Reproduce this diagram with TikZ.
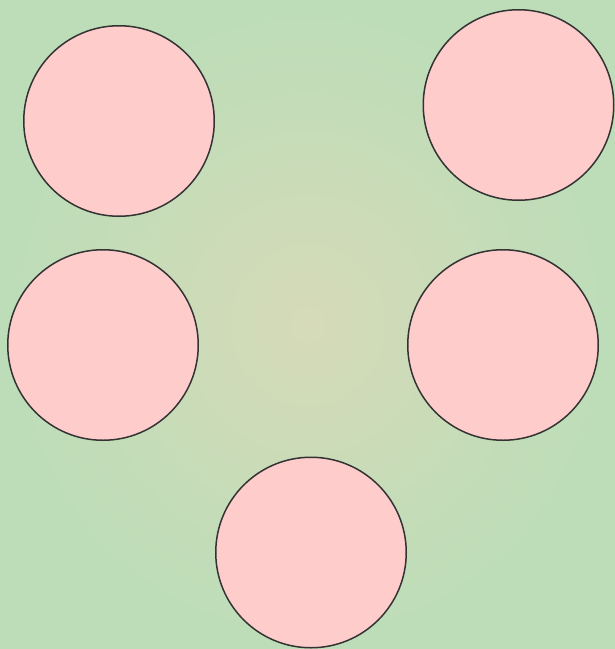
\documentclass[tikz,border=0pt]{standalone}
\usepackage{tikz}
\definecolor{bgtan}{HTML}{D6DAB8}
\definecolor{bggreen}{HTML}{BCDDB8}
\definecolor{spotpink}{HTML}{FFCCCC}
\definecolor{rimgray}{HTML}{333333}

\begin{document}
\begin{tikzpicture}[
    x=1pt, y=-1pt,
    spot/.style={
        circle,
        draw=rimgray,
        line width=1.5pt,
        fill=spotpink,
        minimum size=190.5pt,
        inner sep=0pt
    }
]

% Background
\useasboundingbox (0,0) rectangle (615,649);
\shade[inner color=bgtan, outer color=bggreen] (0,0) rectangle (615,649);

% Top row
\node[spot] (topleft) at (119, 121) {};
\node[spot] (topright) at (518.5, 105) {};

% Middle row
\node[spot] (midleft) at (103, 345) {};
\node[spot] (midright) at (503, 345) {};

% Bottom
\node[spot] (bottom) at (311, 552.5) {};

\end{tikzpicture}
\end{document}
